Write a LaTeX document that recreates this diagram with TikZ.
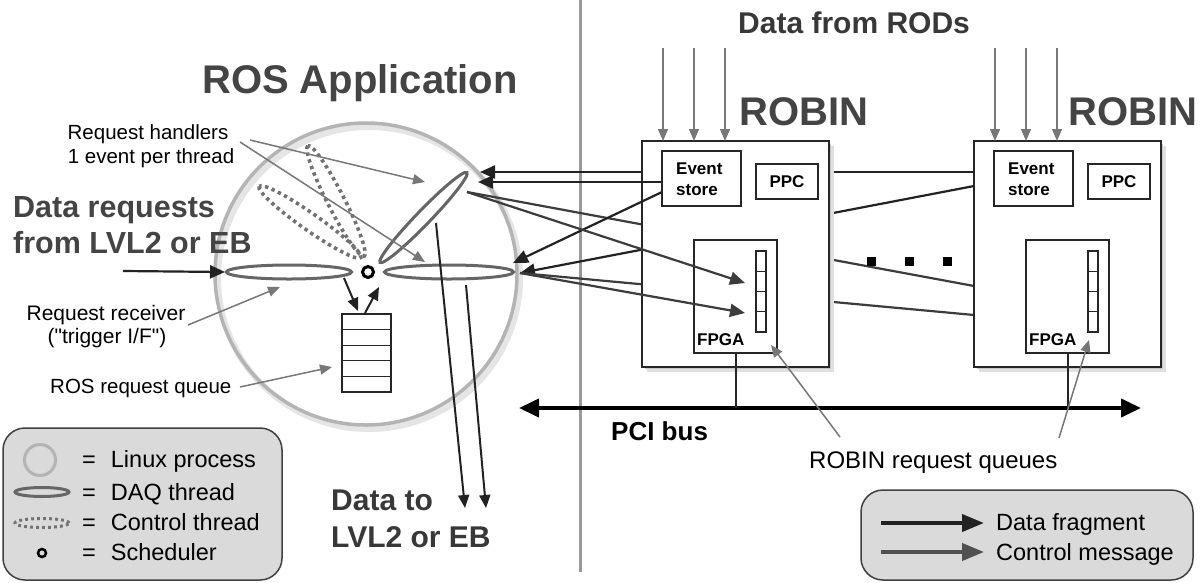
\documentclass[tikz,border=0pt]{standalone}
\usepackage{fontspec}
\setmainfont{Liberation Sans}[Ligatures=TeXOff]
\usetikzlibrary{arrows.meta,shapes.geometric}
\definecolor{titlegray}{HTML}{444444}
\definecolor{ellgray}{HTML}{666666}
\definecolor{dotgray}{HTML}{727272}
\definecolor{circgray}{HTML}{B4B4B4}
\definecolor{arrowgray}{HTML}{777777}
\definecolor{darkc}{HTML}{222222}
\definecolor{ctrlc}{HTML}{3C3C3C}
\definecolor{legendfill}{HTML}{DADADA}
\newcommand{\fz}[1]{\fontsize{#1}{#1}\selectfont}
\begin{document}
\begin{tikzpicture}[x=1pt,y=-1pt,
  txt/.style={inner sep=0pt, anchor=base west},
  ctxt/.style={inner sep=0pt, anchor=base},
  daq/.style={draw=ellgray, line width=3pt, ellipse, inner sep=0pt, minimum width=125pt, minimum height=14pt},
  ctl/.style={draw=dotgray, line width=3.6pt, dash pattern=on 3.4pt off 3.6pt, ellipse, inner sep=0pt, minimum width=124pt, minimum height=17pt},
  boxn/.style={draw=black!85, line width=1.3pt, fill=white, inner sep=0pt},
  data/.style={draw=darkc, line width=2.2pt, -{Triangle[length=15pt,width=13pt]}},
  ctrl/.style={draw=ctrlc, line width=2.2pt, -{Triangle[length=15pt,width=13pt]}},
  plainc/.style={draw=ctrlc, line width=2.2pt},
  pointer/.style={draw=arrowgray, line width=1.5pt, -{Triangle[length=12pt,width=10pt]}},
  thin/.style={draw=darkc, line width=2pt, -{Triangle[length=13pt,width=11pt]}},
]
\useasboundingbox (0,0) rectangle (1203,582);
\fill[white] (0,0) rectangle (1203,582);

% divider
\coordinate (divT) at (580,0);
\coordinate (divB) at (580,572);
\draw[draw=black!40, line width=3pt] (divT) -- (divB);

% process circle with shadow
\draw[draw=black!10, line width=6pt] (369,278) circle[radius=151pt];
\node[circle, draw=circgray, line width=3.5pt, minimum size=302pt, inner sep=0pt] (proc) at (366,274) {};

% threads
\node[ctl, rotate=117] (ctl1) at (336,201) {};
\node[ctl, rotate=145] (ctl2) at (310,222) {};
\node[daq] (recv) at (289,272) {};
\node[daq, minimum width=129pt] (hand2) at (449,272) {};
\node[daq, rotate=46] (hand1) at (423.5,217.5) {};
\node[circle, draw=black, line width=3pt, minimum size=11pt, inner sep=0pt] (sched) at (368,272) {};

% ROS request queue
\node[boxn, minimum width=49pt, minimum height=78pt] (rosq) at (366.5,353) {};
\foreach \yy in {329.6,345.2,360.8,376.4} \draw[line width=1.3pt, black!85] (342,\yy) -- (391,\yy);

% labels left
\node[txt, font=\bfseries\fz{40}, text=titlegray] (rosapp) at (202,93) {ROS Application};
\node[txt, font=\bfseries\fz{30.5}, text=titlegray] (dreq1) at (13,217) {Data requests};
\node[txt, font=\bfseries\fz{30.5}, text=titlegray] (dreq2) at (13,253) {from LVL2 or EB};
\node[ctxt, font=\fz{20.5}] (rh1) at (148,139) {Request handlers};
\node[ctxt, font=\fz{20.5}] (rh2) at (151,163) {1 event per thread};
\node[ctxt, font=\fz{21}] (rr1) at (106,320) {Request receiver};
\node[ctxt, font=\fz{21}] (rr2) at (107,343) {("trigger I/F")};
\node[txt, font=\fz{20.5}] (rql) at (50,393) {ROS request queue};
\node[txt, font=\bfseries\fz{30}, text=darkc!90] (dout1) at (331,510) {Data to};
\node[txt, font=\bfseries\fz{30}, text=darkc!90] (dout2) at (331,547) {LVL2 or EB};

% arrows inside process
\coordinate (reqin) at (123,271);
\coordinate (recvL) at (225,272);
\draw[data] (reqin) -- (recvL);
\coordinate (q1a) at (344,278); \coordinate (q1b) at (358,311);
\draw[thin] (q1a) -- (q1b);
\coordinate (q2a) at (365,313); \coordinate (q2b) at (379,287);
\draw[thin] (q2a) -- (q2b);
\coordinate (o1a) at (436,223); \coordinate (o1b) at (465,508);
\coordinate (o2a) at (466,285); \coordinate (o2b) at (486,508);
\draw[thin] (o1a) -- (o1b);
\draw[thin] (o2a) -- (o2b);

% pointers
\coordinate (p1a) at (250,140); \coordinate (p1b) at (425,182);
\coordinate (p2a) at (240,142); \coordinate (p2b) at (425,262);
\coordinate (p3a) at (188,325); \coordinate (p3b) at (280,287);
\coordinate (p4a) at (240,387); \coordinate (p4b) at (332,367);
\draw[pointer] (p1a) -- (p1b);
\draw[pointer] (p2a) -- (p2b);
\draw[pointer] (p3a) -- (p3b);
\draw[pointer] (p4a) -- (p4b);

% connection coordinates
\coordinate (h1tip) at (467,192);
\coordinate (h2tip) at (520,273);
\coordinate (rB172) at (974,172);
\coordinate (rB186) at (974,186);
\coordinate (rB286) at (974,286);
\coordinate (rB315) at (974,315);
\coordinate (a172) at (480,172);
\coordinate (a263) at (513,263);

% lines passing behind left ROBIN
\draw[data] (rB172) -- (a172);
\draw[data] (rB186) -- (h2tip);
\draw[plainc] (h1tip) -- (rB286);
\draw[plainc] (h2tip) -- (rB315);

% ROBIN boxes
\foreach \dx/\nm in {0/A,332/B}{
  \fill[black!12] (647+\dx,146) rectangle (834+\dx,372);
  \fill[black!22] (645+\dx,144) rectangle (831+\dx,369);
  \node[boxn, minimum width=187pt, minimum height=226pt] (robin\nm) at (735.5+\dx,254) {};
  \node[boxn, minimum width=79pt, minimum height=55pt] (es\nm) at (701.5+\dx,178.5) {};
  \node[boxn, minimum width=62pt, minimum height=35pt, font=\bfseries\fz{17}] (ppc\nm) at (787+\dx,181.5) {PPC};
  \node[boxn, minimum width=83pt, minimum height=113pt] (fpga\nm) at (735.5+\dx,296.5) {};
  \node[boxn, minimum width=10pt, minimum height=81pt] (rq\nm) at (761+\dx,291.5) {};
  \foreach \yy in {271.25,291.5,311.75} \draw[line width=1.2pt, black!85] (756+\dx,\yy) -- (766+\dx,\yy);
  \node[txt, font=\bfseries\fz{17}] (ev1\nm) at (676+\dx,174) {Event};
  \node[txt, font=\bfseries\fz{17}] (ev2\nm) at (676+\dx,195) {store};
  \node[txt, font=\bfseries\fz{17}] (fl\nm) at (697+\dx,345) {FPGA};
  \foreach \rx in {663,694,725}{
    \coordinate (rodT) at (\rx+\dx,48);
    \coordinate (rodB) at (\rx+\dx,141);
    \draw[pointer, line width=1.3pt] (rodT) -- (rodB);
  }
}
\node[txt, font=\bfseries\fz{40}, text=titlegray] (robinlA) at (739,125) {ROBIN};
\node[txt, font=\bfseries\fz{40}, text=titlegray] (robinlB) at (1068,125) {ROBIN};
\node[txt, font=\bfseries\fz{30}, text=darkc!90] (rods) at (738,33) {Data from RODs};

% lines in front of left ROBIN
\coordinate (es182) at (662,182);
\coordinate (es192) at (662,192);
\coordinate (a182) at (478,182);
\coordinate (fq1) at (745,283);
\coordinate (fq2) at (745,313);
\draw[data] (es182) -- (a182);
\draw[data] (es192) -- (a263);
\draw[ctrl] (h1tip) -- (fq1);
\draw[ctrl] (h2tip) -- (fq2);

% dots
\foreach \dd/\nm in {871/d1,909/d2,947/d3}
  \node[fill=black, minimum size=9pt, inner sep=0pt] (\nm) at (\dd,261) {};

% PCI bus
\coordinate (pciL) at (519,408);
\coordinate (pciR) at (1141,408);
\draw[line width=4pt, {Triangle[length=20pt,width=18pt]}-{Triangle[length=20pt,width=18pt]}] (pciL) -- (pciR);
\coordinate (dropA) at (736,408);
\coordinate (dropB) at (1068,408);
\draw[line width=1.3pt, black!85] (fpgaA.south -| dropA) -- (dropA);
\draw[line width=1.3pt, black!85] (fpgaB.south -| dropB) -- (dropB);
\node[txt, font=\bfseries\fz{26}] (pcil) at (611,440) {PCI bus};
\node[txt, font=\fz{24}] (rrq) at (809,468) {ROBIN request queues};
\coordinate (p5a) at (840,437); \coordinate (p5b) at (771,345);
\coordinate (p6a) at (1059,438); \coordinate (p6b) at (1089,340);
\draw[pointer] (p5a) -- (p5b);
\draw[pointer] (p6a) -- (p6b);

% left legend
\node[draw=black!75, line width=1.5pt, fill=legendfill, rounded corners=22pt, minimum width=279pt, minimum height=152pt, inner sep=0pt] (legL) at (142.5,504) {};
\node[circle, draw=circgray, line width=3pt, minimum size=31pt, inner sep=0pt] (lg1) at (40,460) {};
\node[daq, minimum width=54pt, minimum height=9pt] (lg2) at (42,492) {};
\node[ctl, minimum width=54pt, minimum height=9pt, line width=3pt, dash pattern=on 2.8pt off 3.2pt] (lg3) at (42,523) {};
\node[circle, draw=black, line width=2.5pt, minimum size=8pt, inner sep=0pt] (lg4) at (42,553) {};
\node[txt, font=\fz{23.5}] (lt1) at (82,467) {=\hspace{15pt}Linux process};
\node[txt, font=\fz{23.5}] (lt2) at (82,500) {=\hspace{15pt}DAQ thread};
\node[txt, font=\fz{23.5}] (lt3) at (82,530) {=\hspace{15pt}Control thread};
\node[txt, font=\fz{23.5}] (lt4) at (82,560) {=\hspace{15pt}Scheduler};

% right legend
\node[draw=black!75, line width=1.5pt, fill=legendfill, rounded corners=22pt, minimum width=332pt, minimum height=90pt, inner sep=0pt] (legR) at (1027,535) {};
\coordinate (la1) at (881,523); \coordinate (lb1) at (984,523);
\coordinate (la2) at (881,552); \coordinate (lb2) at (984,552);
\draw[draw=darkc, line width=4pt, -{Triangle[length=22pt,width=17pt]}] (la1) -- (lb1);
\draw[draw=ctrlc!90, line width=4pt, -{Triangle[length=22pt,width=17pt]}] (la2) -- (lb2);
\node[txt, font=\fz{23.5}] (rt1) at (996,530) {Data fragment};
\node[txt, font=\fz{23.5}] (rt2) at (996,560) {Control message};
\end{tikzpicture}
\end{document}
